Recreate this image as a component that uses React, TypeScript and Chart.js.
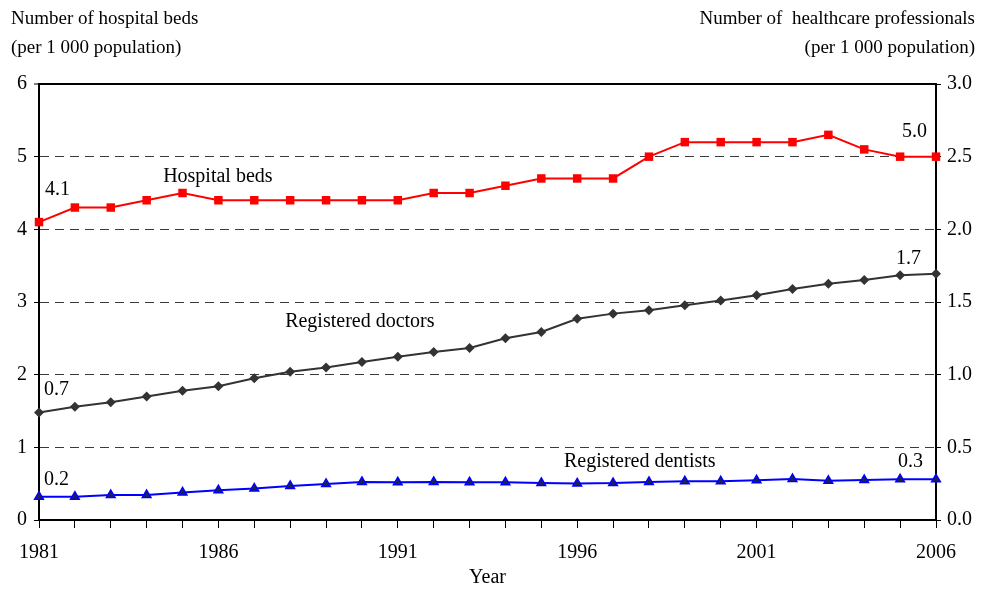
import React, { useEffect, useRef } from "react";
import { Chart, registerables } from "chart.js";

Chart.register(...registerables);

const years: string[] = [
  "1981", "1982", "1983", "1984", "1985", "1986", "1987", "1988", "1989", "1990",
  "1991", "1992", "1993", "1994", "1995", "1996", "1997", "1998", "1999", "2000",
  "2001", "2002", "2003", "2004", "2005", "2006",
];

// Number of hospital beds per 1 000 population (left axis)
const hospitalBeds: number[] = [
  4.1, 4.3, 4.3, 4.4, 4.5, 4.4, 4.4, 4.4, 4.4, 4.4,
  4.4, 4.5, 4.5, 4.6, 4.7, 4.7, 4.7, 5.0, 5.2, 5.2,
  5.2, 5.2, 5.3, 5.1, 5.0, 5.0,
];

// Registered doctors per 1 000 population (right axis)
const doctors: number[] = [
  0.74, 0.78, 0.81, 0.85, 0.89, 0.92, 0.975, 1.02, 1.05, 1.087,
  1.124, 1.156, 1.184, 1.25, 1.294, 1.385, 1.42, 1.443, 1.478, 1.51,
  1.546, 1.59, 1.626, 1.652, 1.684, 1.695,
];

// Registered dentists per 1 000 population (right axis)
const dentists: number[] = [
  0.16, 0.16, 0.172, 0.172, 0.19, 0.204, 0.216, 0.234, 0.248, 0.262,
  0.259, 0.262, 0.259, 0.259, 0.255, 0.252, 0.254, 0.262, 0.266, 0.266,
  0.273, 0.282, 0.27, 0.275, 0.28, 0.28,
];

const leftTitle: string[] = ["Number of hospital beds", "(per 1 000 population)"];
const rightTitle: string[] = ["Number of  healthcare professionals", "(per 1 000 population)"];
const xTitle = "Year";

// text annotations: [text, x index, value, axis, align]
const annotations: [string, number, number, "y" | "y2", CanvasTextAlign][] = [
  ["4.1", 0.17, 4.54, "y", "left"],
  ["Hospital beds", 3.46, 4.73, "y", "left"],
  ["5.0", 24.75, 5.34, "y", "right"],
  ["0.7", 0.14, 0.895, "y2", "left"],
  ["Registered doctors", 6.86, 1.362, "y2", "left"],
  ["1.7", 24.58, 1.796, "y2", "right"],
  ["0.2", 0.14, 0.275, "y2", "left"],
  ["Registered dentists", 14.63, 0.399, "y2", "left"],
  ["0.3", 24.64, 0.399, "y2", "right"],
];

const FONT = "'Liberation Serif', 'Times New Roman', serif";

const textPlugin = {
  id: "textPlugin",
  afterDraw(chart: any) {
    const ctx = chart.ctx as CanvasRenderingContext2D;
    const xs = chart.scales.x;
    ctx.save();
    ctx.fillStyle = "#000";
    ctx.font = `20px ${FONT}`;
    ctx.textBaseline = "middle";
    for (const [t, xi, v, ax, al] of annotations) {
      const ys = chart.scales[ax];
      ctx.textAlign = al;
      ctx.fillText(t, xs.getPixelForValue(xi), ys.getPixelForValue(v));
    }
    ctx.font = `19px ${FONT}`;
    ctx.textAlign = "left";
    ctx.fillText(leftTitle[0], 11, 19);
    ctx.fillText(leftTitle[1], 11, 48);
    ctx.textAlign = "right";
    ctx.fillText(rightTitle[0], 975, 19);
    ctx.fillText(rightTitle[1], 975, 48);
    ctx.restore();
  },
};

export default function App() {
  const ref = useRef<HTMLCanvasElement>(null);
  useEffect(() => {
    if (!ref.current) return;
    Chart.defaults.font.family = FONT;
    Chart.defaults.color = "#000";
    const chart = new Chart(ref.current, {
      type: "line",
      data: {
        labels: years,
        datasets: [
          {
            label: "Hospital beds",
            data: hospitalBeds,
            yAxisID: "y",
            borderColor: "#ff0000",
            backgroundColor: "#ff0000",
            borderWidth: 2,
            pointStyle: "rect",
            pointRadius: 6,
            pointBorderWidth: 0,
            clip: false,
          } as any,
          {
            label: "Registered doctors",
            data: doctors,
            yAxisID: "y2",
            borderColor: "#333333",
            backgroundColor: "#333333",
            borderWidth: 2,
            pointStyle: "rectRot",
            pointRadius: 5,
            pointBorderWidth: 0,
            clip: false,
          } as any,
          {
            label: "Registered dentists",
            data: dentists,
            yAxisID: "y2",
            borderColor: "#0000ff",
            backgroundColor: "#222244",
            borderWidth: 2,
            pointStyle: "triangle",
            pointRadius: 5,
            pointBorderWidth: 1.5,
            pointBorderColor: "#0000ff",
            clip: false,
          } as any,
        ],
      },
      options: {
        responsive: false,
        animation: false,
        layout: { padding: { top: 84, left: 0, right: 0, bottom: 0 } },
        plugins: { legend: { display: false }, tooltip: { enabled: false }, title: { display: false } },
        scales: {
          x: {
            type: "category",
            offset: false,
            afterFit: (s: any) => { s.height = 70; },
            grid: {
              display: true,
              drawOnChartArea: false,
              drawTicks: true,
              tickLength: 8,
              tickColor: "#000",
              tickWidth: 1,
            },
            border: { display: true, color: "#000", width: 2 },
            ticks: {
              autoSkip: false,
              maxRotation: 0,
              padding: 13,
              font: { size: 20 },
              callback: (_v: any, i: number) => (i % 5 === 0 ? years[i] : ""),
            },
            title: { display: true, text: xTitle, font: { size: 20 }, padding: { top: 0, bottom: 0 } },
          },
          y: {
            position: "left",
            min: 0,
            max: 6,
            afterFit: (s: any) => { s.width = 39; },
            grid: {
              color: (c: any) =>
                c.tick && c.tick.value === 0 ? "rgba(0,0,0,0)" : c.tick && c.tick.value === 6 ? "#000" : "#3a3a3a",
              lineWidth: (c: any) => (c.tick && c.tick.value === 6 ? 2 : 1),
              drawTicks: true,
              tickLength: 5,
              tickColor: "#000",
              tickWidth: 1,
              tickBorderDash: [],
            },
            border: {
              display: true,
              color: "#000",
              width: 2,
              dash: (c: any) => (c.tick && c.tick.value === 6 ? [] : [9, 6]),
            },
            ticks: { stepSize: 1, padding: 7, font: { size: 20 } },
          },
          y2: {
            position: "right",
            min: 0,
            max: 3,
            afterFit: (s: any) => { s.width = 45; },
            grid: {
              drawOnChartArea: false,
              drawTicks: true,
              tickLength: 5,
              tickColor: "#000",
            },
            border: { display: true, color: "#000", width: 2 },
            ticks: {
              stepSize: 0.5,
              padding: 6,
              font: { size: 20 },
              callback: (v: any) => Number(v).toFixed(1),
            },
          },
        },
      },
      plugins: [textPlugin],
    });
    return () => chart.destroy();
  }, []);
  return (
    <div style={{ position: "absolute", left: 0, top: 0, width: 981, height: 590, background: "#fff" }}>
      <canvas ref={ref} width={981} height={590} />
    </div>
  );
}
